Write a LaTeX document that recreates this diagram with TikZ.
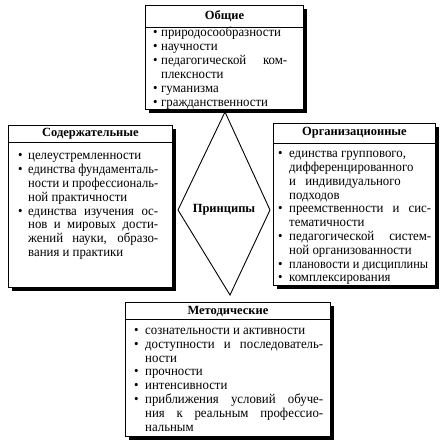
\documentclass[tikz,border=0pt]{standalone}
\usepackage{fontspec}
\usepackage{graphicx}
\setmainfont{Liberation Serif}
\newfontfamily\bodyfont[FakeStretch=0.95]{Liberation Serif}
\usetikzlibrary{calc,shadows}
\newsavebox\jlbox
\newcommand\bu{\leavevmode\llap{\textbullet\hspace{\bgap}}}
\newcommand\jl[1]{\sbox\jlbox{#1}\ifdim\wd\jlbox>\tw\relax\resizebox{\tw}{\height}{#1}\else\makebox[\tw][s]{#1}\fi}
\newcommand\fitw[2]{\sbox\jlbox{#2}\ifdim\wd\jlbox>#1\relax\resizebox{#1}{\height}{#2}\else#2\fi}
\def\bgap{3pt}
\def\tw{100pt}
\begin{document}
\begin{tikzpicture}[x=1pt,y=-1pt,
  frame/.style={line width=0.9pt},
  panel/.style={draw=black, line width=0.9pt, fill=white, inner sep=0pt, anchor=north west,
    drop shadow={shadow xshift=3.5pt, shadow yshift=-3.5pt, fill=black, opacity=1}},
  hdr/.style={font=\fontsize{12.5}{14}\selectfont\bfseries, inner sep=0pt},
  body/.style={font=\bodyfont\fontsize{13.5}{13.8}\selectfont, align=left, inner sep=0pt, anchor=base west},
  bgap/.code={\def\bgap{#1}},
  tw/.code={\def\tw{#1}}]
\useasboundingbox (0,0) rectangle (447,446);

% diamond
\coordinate (dt) at (225,112);
\coordinate (dr) at (270,210);
\coordinate (db) at (230,295);
\coordinate (dl) at (178,210);
\draw[frame] (dt) -- (dr) -- (db) -- (dl) -- cycle;
\node[hdr] (pr) at (224,210) {Принципы};

% top box
\node[panel, minimum width=158pt, minimum height=104pt] (top) at (145,5) {};
\draw[frame] ($(top.north west)+(0,22)$) -- ($(top.north east)+(0,22)$);
\node[hdr] (tophd) at ($(top.north)+(0,11)$) {Общие};
\node[body, bgap=3.6pt, tw=126pt, font=\bodyfont\fontsize{13.5}{14.1}\selectfont] (topbd) at (161,107) {%
\bu природосообразности\\
\bu научности\\
\bu\jl{педагогической ком-}\\
плексности\\
\bu гуманизма\\
\bu гражданственности};

% left box
\node[panel, minimum width=164pt, minimum height=162pt] (lft) at (8,125) {};
\draw[frame] ($(lft.north west)+(0,17)$) -- ($(lft.north east)+(0,17)$);
\node[hdr] (lfthd) at ($(lft.north)+(0,8.5)$) {Содержательные};
\node[body, bgap=5.6pt, tw=130pt] (lftbd) at (28,256.6) {%
\bu целеустремленности\\
\bu\jl{единства фундаменталь-}\\
\jl{ности и профессиональ-}\\
ной практичности\\
\bu\jl{единства изучения ос-}\\
\jl{нов и мировых дости-}\\
\jl{жений науки, образо-}\\
вания и практики};

% right box
\node[panel, minimum width=162pt, minimum height=162pt] (rgt) at (273,123) {};
\draw[frame] ($(rgt.north west)+(0,20)$) -- ($(rgt.north east)+(0,20)$);
\node[hdr] (rgthd) at ($(rgt.north)+(0,10)$) {Организационные};
\node[body, bgap=6.5pt, tw=142pt] (rgtbd) at (289,282) {%
\bu единства группового,\\
дифференцированного\\
и\hspace{6pt} индивидуального\\
подходов\\
\bu\jl{преемственности и сис-}\\
тематичности\\
\bu\jl{педагогической систем-}\\
ной организованности\\
\bu\fitw{139pt}{плановости и дисциплины}\\
\bu комплексирования};

% bottom box
\node[panel, minimum width=205pt, minimum height=134pt] (bot) at (125,302) {};
\draw[frame] ($(bot.north west)+(0,17)$) -- ($(bot.north east)+(0,17)$);
\node[hdr] (bothd) at ($(bot.north)+(0,9)$) {Методические};
\node[body, bgap=6.6pt, tw=178pt] (botbd) at (145,431) {%
\bu сознательности и активности\\
\bu\jl{доступности и последователь-}\\
ности\\
\bu прочности\\
\bu интенсивности\\
\bu\jl{приближения условий обуче-}\\
\jl{ния к реальным профессио-}\\
нальным};
\end{tikzpicture}
\end{document}
